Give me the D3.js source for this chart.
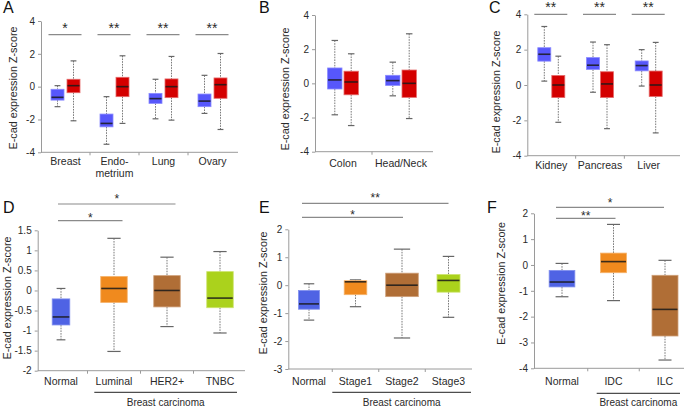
<!DOCTYPE html>
<html>
<head>
<meta charset="utf-8">
<script src="https://cdn.jsdelivr.net/npm/d3@7"></script>
<style>
  body { margin: 0; background: #fff; }
  svg { display: block; }
</style>
</head>
<body>
<svg id="chart" width="685" height="407"></svg>
<script>
// ---------------- DATA ----------------
// box stats: [lower whisker, Q1, median, Q3, upper whisker]
const catsA = ["Breast", "Endo-\nmetrium", "Lung", "Ovary"];
const normalA = [[-1.22, -0.82, -0.65, -0.16, 0.06], [-3.51, -2.45, -2.24, -1.67, -0.61], [-1.96, -1.02, -0.73, -0.41, 0.45], [-1.63, -1.22, -0.88, -0.45, 0.69]];
const tumorA  = [[-2.08, -0.37, 0.06, 0.45, 1.57], [-2.24, -0.61, 0.0, 0.57, 1.88], [-2.04, -0.67, 0.0, 0.47, 1.84], [-2.61, -0.71, 0.12, 0.53, 2.02]];
const sigA = ["*", "**", "**", "**"];
const yTicksA = [-4, -2, 0, 2, 4];

const catsB = ["Colon", "Head/Neck"];
const normalB = [[-1.84, -0.33, 0.2, 0.9, 2.51], [-0.73, -0.12, 0.16, 0.47, 1.24]];
const tumorB  = [[-2.47, -0.67, 0.08, 0.71, 1.73], [-2.06, -0.82, 0.0, 0.78, 2.9]];
const sigB = [];
const yTicksB = [-4, -2, 0, 2, 4];

const catsC = ["Kidney", "Pancreas", "Liver"];
const normalC = [[0.22, 1.35, 1.74, 2.11, 3.31], [-0.41, 0.88, 1.12, 1.55, 2.43], [-0.06, 0.8, 1.1, 1.36, 2.0]];
const tumorC  = [[-2.11, -0.71, 0.0, 0.54, 1.63], [-2.47, -0.71, 0.06, 0.75, 2.28], [-2.71, -0.65, 0.0, 0.79, 2.41]];
const sigC = ["**", "**", "**"];
const yTicksC = [-4, -2, 0, 2, 4];

const catsD = ["Normal", "Luminal", "HER2+", "TNBC"];
const statsD = [[-1.23, -0.86, -0.66, -0.21, 0.05], [-1.52, -0.3, 0.05, 0.35, 1.3], [-0.9, -0.41, 0.0, 0.37, 0.83], [-1.06, -0.43, -0.19, 0.47, 0.97]];
const compD = [["Normal", "Luminal", "*"], ["Normal", "HER2+", "*"]];
const yTicksD = [-2, -1.5, -1, -0.5, 0, 0.5, 1, 1.5];

const catsE = ["Normal", "Stage1", "Stage2", "Stage3"];
const statsE = [[-1.25, -0.86, -0.67, -0.19, 0.05], [-0.77, -0.34, 0.12, 0.16, 0.19], [-1.89, -0.41, 0.0, 0.43, 1.29], [-1.15, -0.25, 0.17, 0.38, 1.03]];
const compE = [["Normal", "Stage2", "*"], ["Normal", "Stage3", "**"]];
const yTicksE = [-3, -2, -1, 0, 1, 2];

const catsF = ["Normal", "IDC", "ILC"];
const statsF = [[-1.23, -0.85, -0.66, -0.21, 0.06], [-1.38, -0.3, 0.13, 0.46, 1.57], [-3.68, -2.75, -1.72, -0.4, 0.18]];
const compF = [["Normal", "IDC", "**"], ["Normal", "ILC", "*"]];
const yTicksF = [-4, -3, -2, -1, 0, 1, 2];

const yTitle = "E-cad expression Z-score";
const groupTitle = "Breast carcinoma";

// ---------------- STYLE / LAYOUT ----------------
const FONT = "'Liberation Sans', Arial, Helvetica, sans-serif";
const AXIS = "#9a9a9a";
const TXT = "#2a2a2a";
const pairColors = { normal: ["#5757fb", "#8a8aff"], tumor: ["#d40000", "#e56a6a"] };
const subColors = [["#4f63e4", "#8190ee"], ["#f08a1e", "#f6b36c"], ["#b06e36", "#cfa07a"], ["#abd21c", "#cde46e"]];

const svg = d3.select("#chart");

function txt(g, x, y, s, size, anchor) {
  return g.append("text").attr("x", x).attr("y", y).text(s)
    .attr("font-family", FONT).attr("font-size", size).attr("fill", TXT)
    .attr("text-anchor", anchor || "middle");
}

function drawFrame(p, x, y, cats) {
  const g = svg.append("g");
  // y axis
  const ax = d3.axisLeft(y).tickValues(p.yTicks).tickSize(3).tickSizeOuter(0).tickPadding(3)
    .tickFormat(d => String(d));
  const ga = g.append("g").attr("transform", `translate(${p.yX},0)`).call(ax);
  ga.select(".domain").attr("stroke", AXIS);
  ga.selectAll(".tick line").attr("stroke", AXIS);
  ga.selectAll("text").attr("fill", TXT).attr("font-size", 10).attr("font-family", FONT);
  // x axis
  const y0 = y(y.domain()[0]);
  g.append("line").attr("x1", p.yX).attr("x2", p.xEnd).attr("y1", y0).attr("y2", y0).attr("stroke", AXIS);
  const centers = cats.map(c => x(c));
  for (let i = 0; i < centers.length - 1; i++) {
    const m = (centers[i] + centers[i + 1]) / 2;
    g.append("line").attr("x1", m).attr("x2", m).attr("y1", y0).attr("y2", y0 + 3).attr("stroke", AXIS);
  }
  // category labels
  cats.forEach(c => {
    const lines = c.split("\n");
    lines.forEach((l, k) => txt(g, x(c), p.labelY + k * 11.5, l, 10.5));
  });
  // y title
  g.append("text").attr("transform", `translate(${p.titleX},${p.titleY}) rotate(-90)`)
    .attr("text-anchor", "middle").attr("dy", "0.35em")
    .attr("font-family", FONT).attr("font-size", 10.8).attr("fill", TXT).text(yTitle);
  // panel letter
  g.append("text").attr("x", p.letterX).attr("y", p.letterY).text(p.letter)
    .attr("font-family", FONT).attr("font-size", 16).attr("fill", "#111");
  return g;
}

function drawBox(g, cx, w, s, y, fill, stroke, capFrac) {
  const [lo, q1, md, q3, hi] = s;
  const cw = w * capFrac;
  g.append("line").attr("x1", cx).attr("x2", cx).attr("y1", y(hi)).attr("y2", y(q3))
    .attr("stroke", "#7a7a7a").attr("stroke-width", 1).attr("stroke-dasharray", "1.6,1.1");
  g.append("line").attr("x1", cx).attr("x2", cx).attr("y1", y(q1)).attr("y2", y(lo))
    .attr("stroke", "#7a7a7a").attr("stroke-width", 1).attr("stroke-dasharray", "1.6,1.1");
  [hi, lo].forEach(v => g.append("line").attr("x1", cx - cw / 2).attr("x2", cx + cw / 2)
    .attr("y1", y(v)).attr("y2", y(v)).attr("stroke", "#666").attr("stroke-width", 1.2));
  g.append("rect").attr("x", cx - w / 2).attr("y", y(q3)).attr("width", w).attr("height", y(q1) - y(q3))
    .attr("fill", fill).attr("stroke", stroke).attr("stroke-width", 0.8);
  g.append("line").attr("x1", cx - w / 2 + 0.5).attr("x2", cx + w / 2 - 0.5).attr("y1", y(md)).attr("y2", y(md))
    .attr("stroke", "#1a1a1a").attr("stroke-width", 1.6).attr("stroke-opacity", 0.85);
}

function pairedPanel(p, cats, normal, tumor, sig) {
  const y = d3.scaleLinear().domain([-4, 4]).range([p.yBottom, p.yTop]);
  const x = d3.scalePoint().domain(cats).range(p.xRange);
  const g = drawFrame(p, x, y, cats);
  cats.forEach((c, i) => {
    drawBox(g, x(c) - p.off, p.boxW, normal[i], y, pairColors.normal[0], pairColors.normal[1], 0.45);
    drawBox(g, x(c) + p.off, p.boxW, tumor[i], y, pairColors.tumor[0], pairColors.tumor[1], 0.45);
  });
  sig.forEach((s, i) => {
    const c = x(cats[i]);
    g.append("line").attr("x1", c - 17).attr("x2", c + 16).attr("y1", p.sigY).attr("y2", p.sigY)
      .attr("stroke", "#8a8a8a").attr("stroke-width", 1.2);
    txt(g, c - 0.5, p.sigY - 2, s, 14);
  });
}

function subtypePanel(p, cats, stats, comps) {
  const y = d3.scaleLinear().domain([p.yTicks[0], p.yTicks[p.yTicks.length - 1]]).range([p.yBottom, p.yTop]);
  const x = d3.scalePoint().domain(cats).range(p.xRange);
  const g = drawFrame(p, x, y, cats);
  cats.forEach((c, i) => {
    drawBox(g, x(c), p.boxW[i], stats[i], y, subColors[i][0], subColors[i][1], 0.5);
  });
  comps.forEach((cm, k) => {
    const x1 = x(cm[0]) + p.compFrom, x2 = x(cm[1]) + p.compTo[k];
    const ly = p.compY[k];
    g.append("line").attr("x1", x1).attr("x2", x2).attr("y1", ly).attr("y2", ly)
      .attr("stroke", "#8a8a8a").attr("stroke-width", 1.2);
    txt(g, (x1 + x2) / 2, ly + p.starDy[k], cm[2], 12);
  });
  // group bracket
  const bx1 = p.bracket[0], bx2 = p.bracket[1];
  g.append("line").attr("x1", bx1).attr("x2", bx2).attr("y1", p.bracketY).attr("y2", p.bracketY)
    .attr("stroke", "#222").attr("stroke-width", 1);
  txt(g, (bx1 + bx2) / 2, p.groupY, groupTitle, 10);
}

pairedPanel({ letter: "A", letterX: 3, letterY: 13, yX: 41, xEnd: 238, yBottom: 152.3, yTop: 21, yTicks: yTicksA,
  xRange: [65.5, 212.5], boxW: 13, off: 8, labelY: 165, titleX: 13, titleY: 88, sigY: 34.7 },
  catsA, normalA, tumorA, sigA);
pairedPanel({ letter: "B", letterX: 259, letterY: 13, yX: 315, xEnd: 433, yBottom: 151.7, yTop: 15, yTicks: yTicksB,
  xRange: [343, 401], boxW: 14.4, off: 8.2, labelY: 167, titleX: 285, titleY: 89, sigY: 0 },
  catsB, normalB, tumorB, sigB);
pairedPanel({ letter: "C", letterX: 489, letterY: 13, yX: 527.3, xEnd: 680, yBottom: 155.7, yTop: 14.3, yTicks: yTicksC,
  xRange: [551.3, 648.7], boxW: 13, off: 7, labelY: 169, titleX: 496.7, titleY: 92, sigY: 14.3 },
  catsC, normalC, tumorC, sigC);

subtypePanel({ letter: "D", letterX: 3, letterY: 213, yX: 37.7, xEnd: 245, yBottom: 370.7, yTop: 230.3, yTicks: yTicksD,
  xRange: [61, 220], boxW: [17.6, 26.5, 26.5, 26.5], labelY: 385, titleX: 7, titleY: 298,
  compFrom: -3, compTo: [8.5, 8.5], compY: [220.7, 204], starDy: [1, -1],
  bracket: [94.3, 237], bracketY: 392.3, groupY: 405.5 }, catsD, statsD, compD);
subtypePanel({ letter: "E", letterX: 259, letterY: 213, yX: 288.3, xEnd: 472, yBottom: 369, yTop: 229.3, yTicks: yTicksE,
  xRange: [309, 448.5], boxW: [21, 22.6, 32.6, 23], labelY: 385, titleX: 263.3, titleY: 293,
  compFrom: -7, compTo: [1, 0], compY: [217.3, 203.3], starDy: [1.5, -1.5],
  bracket: [332.3, 471], bracketY: 392.3, groupY: 405.5 }, catsE, statsE, compE);
subtypePanel({ letter: "F", letterX: 487, letterY: 213, yX: 534, xEnd: 684, yBottom: 368.3, yTop: 213.3, yTicks: yTicksF,
  xRange: [562, 665], boxW: [25.7, 26, 26], labelY: 384.5, titleX: 501.7, titleY: 283.5,
  compFrom: -6, compTo: [2, -1], compY: [218.3, 207.3], starDy: [1.5, -0.5],
  bracket: [596.7, 680], bracketY: 393.3, groupY: 405.5 }, catsF, statsF, compF);
</script>
</body>
</html>
